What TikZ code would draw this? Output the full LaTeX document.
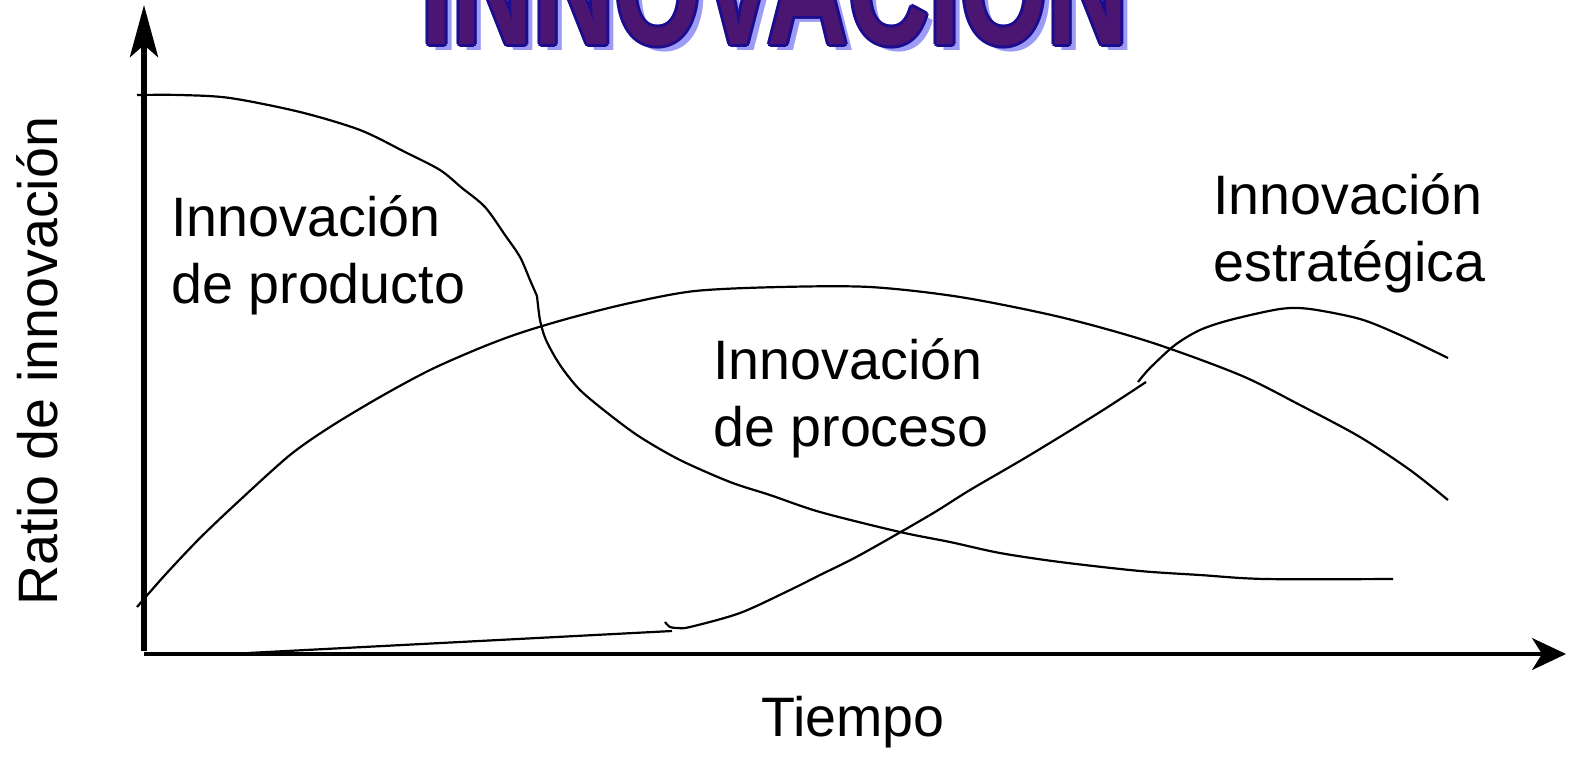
\documentclass[tikz,border=0pt]{standalone}
\usepackage{fontspec}
\setmainfont{Liberation Sans}
\usepackage{tikz}
\usetikzlibrary{arrows.meta}
\definecolor{TitleFill}{HTML}{4A1672}
\definecolor{TitleEdge}{HTML}{1C0C8E}
\definecolor{TitleShadow}{HTML}{9C9CF6}
\newcommand{\titletext}{\scalebox{0.7}[1]{\fontsize{80}{80}\selectfont\bfseries INNOVACIÓN}}

\begin{document}
\begin{tikzpicture}[x=0.5pt,y=-0.5pt,
    curve/.style={line width=1.1pt, smooth, tension=0.5},
    label/.style={align=left, anchor=north west, inner sep=0pt,
      font=\fontsize{27.8}{33.5}\selectfont},
    title/.style={anchor=base, inner sep=0pt}]
\useasboundingbox (0,0) rectangle (1575,756);
% title
\node[title, text=TitleShadow] at (782,50) {\titletext};
\foreach \dx/\dy in {-3/0, 3/0, 0/-3, 0/3, -2/-2, 2/2, -2/2, 2/-2}
  \node[title, text=TitleEdge] at (775+\dx,44+\dy) {\titletext};
\node[title, text=TitleFill] (title) at (775,44) {\titletext};
% axes
\draw[line width=3pt, -{Stealth[length=26pt,width=14pt,inset=6pt]}] (144,651) -- (144,5);
\draw[line width=1.6pt, -{Stealth[length=17pt,width=16pt,inset=5pt]}] (144,654) -- (1566,654);
\node[font=\fontsize{27.8}{33.5}\selectfont, rotate=90] (ylab) at (37,361) {Ratio de innovación};
\node[font=\fontsize{27.8}{33.5}\selectfont] (xlab) at (853,722) {Tiempo};
% product
\draw[curve] plot coordinates {(137,95) (180,95) (230,98) (300,112) (360,130)
  (405,152) (440,170) (462,188) (485,207) (505,235) (520,257) (530,280) (537,296)};
\draw[curve] plot coordinates {(537,296) (540,320) (546,340) (560,365) (580,390)
  (610,415) (640,437) (680,460) (730,482) (770,495) (820,512) (900,532) (950,542)
  (1000,553) (1060,562) (1140,571) (1200,575) (1265,579) (1393,579)};
% process
\draw[curve] plot coordinates {(137,607) (165,575) (200,538) (240,500) (290,455)
  (330,427) (380,397) (430,370) (480,348) (520,333) (570,318) (630,303) (695,291)
  (780,287) (870,287) (960,297) (1060,317) (1150,342) (1240,375) (1300,405)
  (1360,437) (1410,470) (1448,500)};
% strategic
\draw[line width=1.1pt] (248,653) -- (672,631);
\draw[curve] plot coordinates {(665,622) (670,627) (678,628) (690,627) (740,613)
  (790,590) (820,575) (860,555) (930,515) (970,490) (1030,455) (1100,412) (1146,382)};
\draw[curve] plot coordinates {(1138,382) (1150,368) (1175,345) (1200,330)
  (1230,320) (1280,309) (1310,309) (1360,319) (1400,335) (1448,358)};
% labels
\node[label] (prod) at (171,195) {Innovación\\de producto};
\node[label] (proc) at (713,338) {Innovación\\de proceso};
\node[label] (estr) at (1213,173) {Innovación\\estratégica};
\end{tikzpicture}
\end{document}
